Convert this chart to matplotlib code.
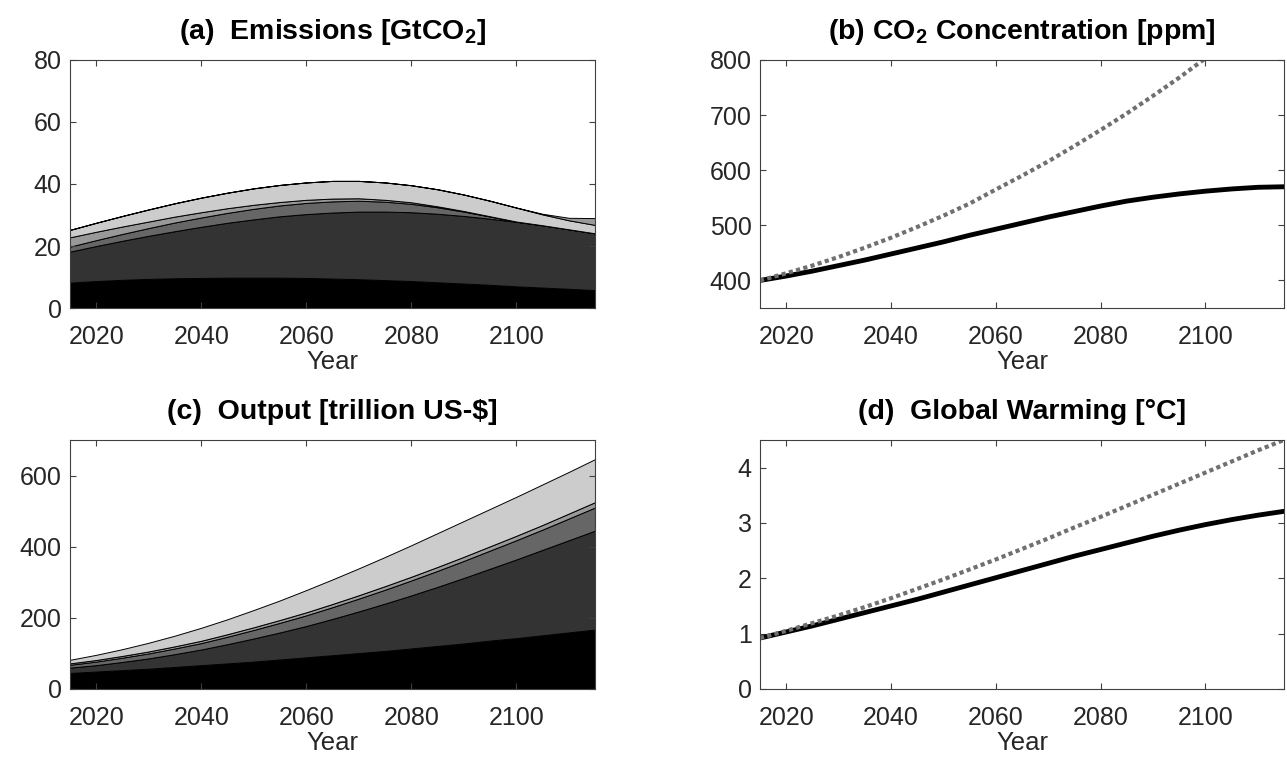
import matplotlib
matplotlib.use("Agg")
import matplotlib.pyplot as plt
import numpy as np

plt.rcParams['font.family'] = ['Liberation Sans', 'DejaVu Sans']
plt.rcParams['mathtext.fontset'] = 'custom'
plt.rcParams['mathtext.rm'] = 'Liberation Sans'
plt.rcParams['mathtext.bf'] = 'Liberation Sans:bold'

years = np.arange(2015, 2120, 5)

# (a) emissions by group, stacked [GtCO2]
em_1 = [8.2, 8.7, 9.1, 9.4, 9.6, 9.7, 9.8, 9.8, 9.8, 9.7, 9.5, 9.3, 9.0, 8.7, 8.3, 7.9, 7.5, 7.0, 6.6, 6.2, 5.8]
em_2 = [10.0, 11.3, 12.6, 13.9, 15.2, 16.5, 17.7, 18.8, 19.8, 20.6, 21.3, 21.8, 22.1, 22.2, 22.1, 21.8, 21.3, 20.8, 20.1, 19.2, 18.3]
em_3 = [1.6, 1.9, 2.2, 2.5, 2.8, 3.0, 3.2, 3.4, 3.5, 3.6, 3.6, 3.5, 3.2, 2.7, 2.1, 1.4, 0.7, 0.1, 0.0, 0.0, 0.0]
em_4 = [3.0, 2.7, 2.4, 2.1, 1.9, 1.7, 1.5, 1.3, 1.1, 1.0, 0.9, 0.8, 0.6, 0.5, 0.3, 0.2, 0.1, 0.0, 0.0, 0.0, 0.0]
em_5 = [2.4, 2.9, 3.4, 3.9, 4.3, 4.7, 5.0, 5.3, 5.5, 5.6, 5.7, 5.6, 5.6, 5.5, 5.5, 5.3, 5.0, 4.5, 3.5, 2.9, 2.7]
em_6 = [0, 0, 0, 0, 0, 0, 0, 0, 0, 0, 0, 0, 0, 0, 0, 0, 0, 0, 0.2, 0.8, 2.2]

# (b) CO2 concentration [ppm]
conc_opt = [400, 408, 417, 427, 437, 448, 459, 470, 482, 493, 504, 515, 525, 535, 544, 551, 557, 562, 566, 569, 570]
conc_bau = [400, 413, 427, 442.5, 459.5, 477.5, 497, 517.5, 539.5, 565, 590, 616, 644, 673, 703, 735, 768, 803, 838, 874, 910]

# (c) output by group, stacked [trillion US-$]
out_1 = [45, 49, 53, 57, 62, 67, 72, 77, 83, 89, 95, 101, 107, 114, 121, 128, 136, 143, 151, 159, 167]
out_2 = [15, 18, 23, 29, 36, 44, 54, 65, 76, 88, 102, 117, 133, 149, 166, 184, 202, 221, 240, 259, 278]
out_3 = [8, 10, 12, 14, 16, 18, 21, 24, 27, 30, 33, 36, 39, 42, 45, 48, 51, 54, 57, 61, 65]
out_4 = [4, 4.5, 5, 5.5, 6, 6.5, 7, 7.5, 8, 8.5, 9, 9.5, 10, 10.5, 11, 11.5, 12, 12.5, 13, 14, 15]
out_5 = [10, 14.5, 19, 24.5, 30, 36.5, 42, 48.5, 55, 62.5, 69, 75.5, 82, 88.5, 95, 100.5, 105, 109.5, 114, 117, 121]

# (d) global warming [°C]
temp_opt = [0.92, 1.03, 1.14, 1.26, 1.38, 1.50, 1.62, 1.75, 1.88, 2.01, 2.14, 2.27, 2.40, 2.52, 2.64, 2.76, 2.87, 2.97, 3.06, 3.14, 3.21]
temp_bau = [0.92, 1.05, 1.19, 1.33, 1.48, 1.64, 1.81, 1.98, 2.16, 2.34, 2.53, 2.72, 2.92, 3.11, 3.31, 3.51, 3.71, 3.91, 4.11, 4.31, 4.50]

grays_em = ['#000000', '#333333', '#666666', '#999999', '#cccccc', '#999999']
grays_out = ['#000000', '#333333', '#666666', '#999999', '#cccccc']

fig = plt.figure(figsize=(12.87, 7.71), dpi=100)
ax_a = fig.add_axes([0.0544, 0.6005, 0.4079, 0.3217])
ax_b = fig.add_axes([0.5905, 0.6005, 0.4072, 0.3217])
ax_c = fig.add_axes([0.0544, 0.1064, 0.4079, 0.3230])
ax_d = fig.add_axes([0.5905, 0.1064, 0.4072, 0.3230])

ax_a.stackplot(years, em_1, em_2, em_3, em_4, em_5, em_6, colors=grays_em,
               edgecolor='k', linewidth=0.7)
ax_c.stackplot(years, out_1, out_2, out_3, out_4, out_5, colors=grays_out,
               edgecolor='k', linewidth=0.7)

ax_b.plot(years, conc_opt, color='k', lw=3.5)
ax_b.plot(years, conc_bau, color='#707070', lw=3, linestyle=(0, (1, 0.8)))
ax_d.plot(years, temp_opt, color='k', lw=3.5)
ax_d.plot(years, temp_bau, color='#707070', lw=3, linestyle=(0, (1, 0.8)))

ax_a.set_ylim(0, 80)
ax_a.set_yticks([0, 20, 40, 60, 80])
ax_b.set_ylim(350, 800)
ax_b.set_yticks([400, 500, 600, 700, 800])
ax_c.set_ylim(0, 700)
ax_c.set_yticks([0, 200, 400, 600])
ax_d.set_ylim(0, 4.5)
ax_d.set_yticks([0, 1, 2, 3, 4])

titles = [r'(a)  Emissions [GtCO$_\mathbf{2}$]',
          r'(b) CO$_\mathbf{2}$ Concentration [ppm]',
          '(c)  Output [trillion US-$]',
          '(d)  Global Warming [°C]']

for ax, t in zip([ax_a, ax_b, ax_c, ax_d], titles):
    ax.set_xlim(2015, 2115)
    ax.set_xticks([2020, 2040, 2060, 2080, 2100])
    ax.set_xlabel('Year', fontsize=18.5, color='#262626', labelpad=1)
    ax.set_title(t, fontsize=20.5, fontweight='bold', pad=15)
    ax.tick_params(direction='in', top=True, right=True, length=4, width=0.8,
                   labelsize=18, colors='#404040', labelcolor='#262626', pad=6)
    ax.tick_params(axis='x', pad=12)
    for s in ax.spines.values():
        s.set_color('#404040')
        s.set_linewidth(0.8)

fig.savefig('out.png', dpi=100)
